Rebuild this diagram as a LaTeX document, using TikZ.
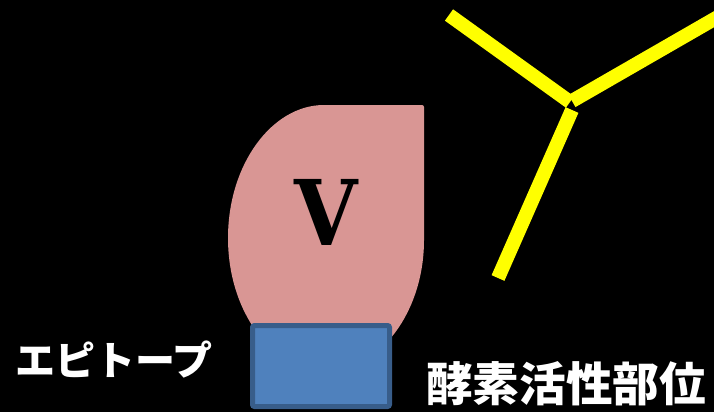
\documentclass[tikz,border=0pt]{standalone}
\usepackage{fontspec}
\newfontfamily\jpfont{Noto Sans CJK JP}
\newfontfamily\vfont{DejaVu Serif}[FakeStretch=0.9]
\definecolor{lobe}{HTML}{D99694}
\definecolor{boxfill}{HTML}{4F81BD}
\definecolor{boxline}{HTML}{385D8A}
\definecolor{armyellow}{HTML}{FFFF00}
\tikzset{
  label jp/.style={text=white, font=\jpfont\bfseries, inner sep=0pt},
  arm/.style={draw=armyellow, line width=10.5pt, line cap=butt},
}
\begin{document}
\begin{tikzpicture}[x=0.75pt, y=0.75pt]
  % canvas
  \fill[black] (0,0) rectangle (714,412);
  \useasboundingbox (0,0) rectangle (714,412);

  % antigen lobe: three quarters of an ellipse with one square corner
  \fill[lobe, rounded corners=1.5pt]
    (326,307) arc[start angle=90, end angle=360, x radius=98, y radius=133]
    -- (424,307) -- cycle;
  \node[font=\vfont\bfseries\fontsize{68}{68}\selectfont, inner sep=0pt] (v) at (326,200) {V};

  % epitope block
  \node[draw=boxline, fill=boxfill, line width=3.75pt, rounded corners=1.5pt,
        minimum width=137pt*0.75, minimum height=81pt*0.75, inner sep=0pt]
        (epi) at (321,46) {};

  % antibody arms
  \begin{scope}
    \clip (0,0) rectangle (714,412);
    \coordinate (armA1) at (449,397);
    \coordinate (armA2) at (570,310);
    \coordinate (armB1) at (572,311);
    \coordinate (armB2) at (730,402);
    \coordinate (stem1) at (572,302);
    \coordinate (stem2) at (498,134);
    \draw[arm] (armA1) -- (armA2);
    \draw[arm] (armB1) -- (armB2);
    \draw[arm] (stem1) -- (stem2);
  \end{scope}

  % labels
  \node[label jp, font=\jpfont\bfseries\fontsize{30}{30}\selectfont] (epilabel) at (114,52) {エピトープ};
  \node[label jp, font=\jpfont\bfseries\fontsize{35}{35}\selectfont] (sitelabel) at (566,28) {酵素活性部位};
\end{tikzpicture}
\end{document}
